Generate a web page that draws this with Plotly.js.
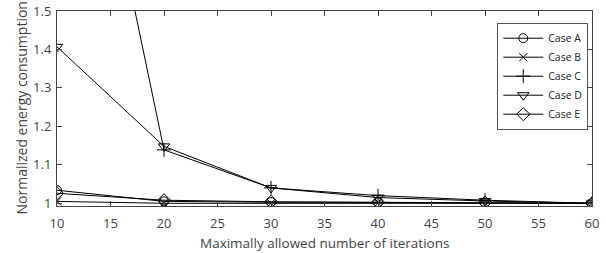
<!DOCTYPE html>
<html><head><meta charset="utf-8">
<script src="https://cdn.plot.ly/plotly-3.0.1.min.js"></script>
<style>html,body{margin:0;padding:0;background:#fff}</style>
</head><body><div id="chart" style="width:606px;height:253px"></div>
<script>
const iterations = [10, 20, 30, 40, 50, 60];
const caseA = [1.034, 1.005, 1.003, 1.002, 1.001, 1.000];
const caseB = [1.005, 1.000, 1.000, 1.000, 1.000, 1.000];
const caseC = [2.47, 1.139, 1.040, 1.020, 1.008, 1.000];
const caseD = [1.407, 1.148, 1.040, 1.015, 1.006, 1.000];
const caseE = [1.026, 1.008, 1.004, 1.003, 1.002, 1.000];
const names = ['Case A', 'Case B', 'Case C', 'Case D', 'Case E'];
const series = [caseA, caseB, caseC, caseD, caseE];
const symbols = ['circle-open', 'x-thin-open', 'cross-thin-open', 'triangle-down-open', 'diamond-open'];
const sizes = [9, 8, 10, 10, 10];

const traces = series.map((ys, i) => ({
  x: iterations, y: ys, name: names[i], type: 'scatter', mode: 'lines+markers',
  line: {color: '#000', width: 1},
  marker: {symbol: symbols[i], size: sizes[i], color: '#000', line: {color: '#000', width: 1}},
  cliponaxis: true
}));

const font = "'Open Sans', 'DejaVu Sans', sans-serif";
const layout = {
  width: 606, height: 253,
  margin: {l: 57, r: 14, t: 11, b: 47},
  paper_bgcolor: '#fff', plot_bgcolor: '#fff',
  font: {family: font, color: '#444', size: 11},
  showlegend: true,
  legend: {x: 0.993, y: 0.94, xanchor: 'right', yanchor: 'top', bgcolor: '#fff',
           bordercolor: '#555', borderwidth: 1, font: {size: 10.5, color: '#222'},
           tracegroupgap: 0, itemwidth: 40},
  xaxis: {range: [10, 60], tickvals: [10,15,20,25,30,35,40,45,50,55,60], ticks: 'inside',
          ticklen: 5, tickcolor: '#444', showline: true, linecolor: '#444', linewidth: 1, mirror: 'ticks',
          showgrid: false, zeroline: false, tickfont: {size: 13, color: '#444'}, ticklabelstandoff: 5,
          automargin: false},
  yaxis: {range: [0.993, 1.5], tickvals: [1, 1.1, 1.2, 1.3, 1.4, 1.5], ticktext: ['1','1.1','1.2','1.3','1.4','1.5'],
          ticks: 'inside', ticklen: 5, tickcolor: '#444', showline: true, linecolor: '#444', linewidth: 1,
          mirror: 'ticks', showgrid: false, zeroline: false, tickfont: {size: 13, color: '#444'}, ticklabelstandoff: 2,
          automargin: false},
  annotations: [
    {text: 'Maximally allowed number of iterations', xref: 'paper', yref: 'paper', x: 0.5, y: -0.19,
     xanchor: 'center', yanchor: 'middle', showarrow: false, font: {size: 13.5, color: '#444'}},
    {text: 'Normalized energy consumption', xref: 'paper', yref: 'paper', x: 0, xshift: -36, y: 0.5,
     xanchor: 'center', yanchor: 'middle', textangle: -90, showarrow: false, font: {size: 14, color: '#444'}}
  ]
};
Plotly.newPlot('chart', traces, layout, {displayModeBar: false, staticPlot: true});
</script></body></html>
